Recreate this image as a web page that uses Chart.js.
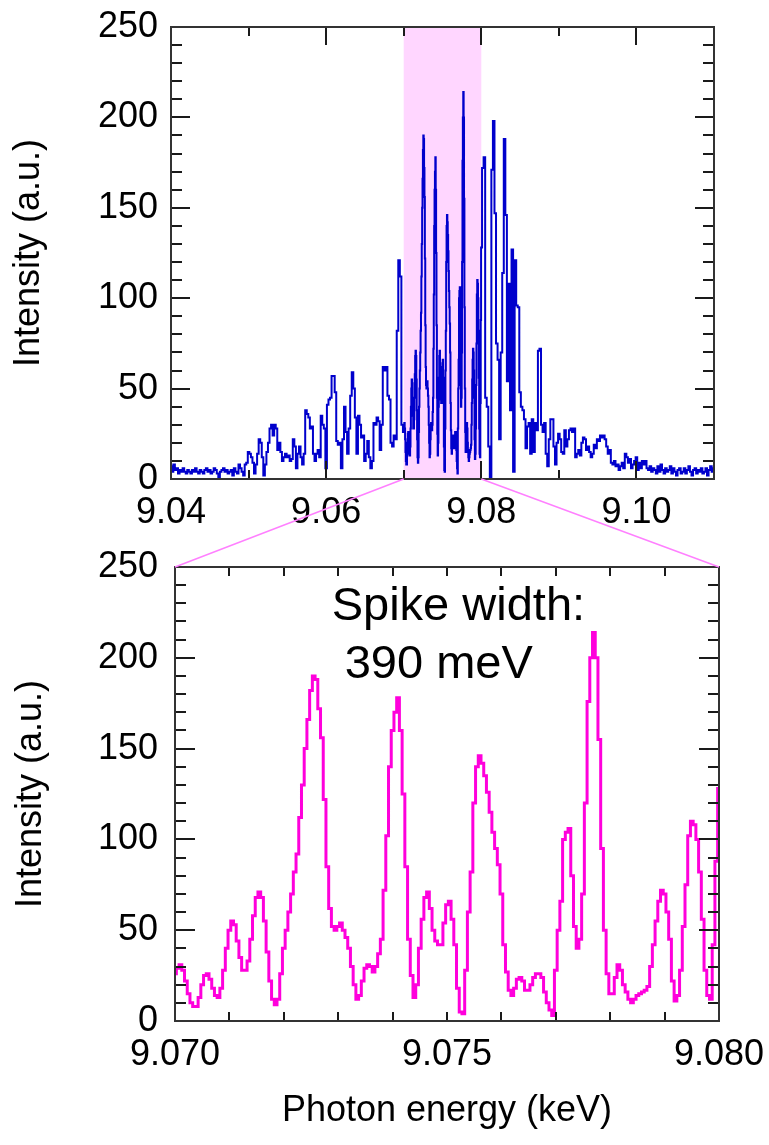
<!DOCTYPE html>
<html>
<head>
<meta charset="utf-8">
<title>Spectrum</title>
<script src="https://cdn.jsdelivr.net/npm/chart.js@4.4.1/dist/chart.umd.min.js"></script>
<style>
  html, body { margin: 0; padding: 0; background: #fff; }
  #wrap { position: relative; width: 769px; height: 1145px; }
  #wrap canvas { position: absolute; left: 0; top: 0; }
</style>
</head>
<body>
<div id="wrap">
  <canvas id="wideChart" width="769" height="1145"></canvas>
  <canvas id="zoomChart" width="769" height="1145"></canvas>
</div>
<script>
// Full spectrum, outside the zoom window (keV start, keV step, intensity)
const wideStep = 0.0002;
const wideLeftStart = 9.04;
const wideLeftIntensity = [
  7, 4, 8, 5, 6, 3, 5, 4, 6, 4,
  3, 5, 4, 3, 5, 4, 6, 4, 3, 5,
  4, 3, 5, 6, 4, 5, 3, 4, 6, 5,
  3, 1, 4, 5, 6, 4, 5, 3, 4, 5,
  2, 6, 4, 3, 8, 6, 4, 2, 8, 9,
  15, 14, 12, 9, 3, 8, 14, 22, 20, 12,
  2, 8, 15, 20, 28, 30, 24, 30, 28, 16,
  20, 15, 10, 12, 14, 12, 13, 10, 11, 22,
  18, 6, 14, 18, 12, 8, 14, 38, 36, 34,
  28, 29, 14, 10, 14, 16, 12, 35, 30, 28,
  6, 41, 44, 45, 57, 57, 48, 21, 19, 20,
  6, 22, 40, 26, 14, 28, 46, 59, 50, 34,
  14, 35, 30, 23, 24, 10, 14, 21, 12, 6,
  10, 31, 30, 34, 32, 16, 30, 62, 60, 62,
  46, 44, 20, 18, 24, 22, 82, 121, 112, 30
];
const wideRightStart = 9.0802;
const wideRightIntensity = [
  172, 178, 45, 40, 18, 1, 171, 198, 147, 75,
  66, 22, 70, 114, 188, 146, 54, 108, 38, 127,
  4, 121, 96, 95, 48, 40, 38, 33, 17, 29,
  31, 14, 33, 15, 31, 27, 71, 72, 30, 26,
  31, 14, 7, 22, 33, 33, 18, 8, 20, 25,
  22, 15, 14, 27, 18, 22, 27, 28, 26, 28,
  12, 14, 16, 13, 20, 23, 22, 16, 18, 15,
  12, 14, 19, 17, 22, 21, 24, 23, 24, 22,
  18, 14, 16, 9, 8, 10, 7, 8, 5, 7,
  9, 6, 14, 12, 9, 11, 6, 8, 10, 12,
  5, 9, 6, 10, 8, 10, 6, 5, 7, 4,
  6, 5, 3, 7, 4, 8, 5, 3, 6, 4,
  5, 7, 3, 6, 4, 2, 5, 6, 3, 4,
  6, 3, 5, 7, 4, 2, 5, 6, 3, 5,
  4, 6, 3, 4, 6, 2, 5, 7, 4, 6
];

// Zoomed window 9.070 - 9.080 keV
const zoomStart = 9.07;
const zoomStep = 0.00005;
const zoomIntensity = [
  26, 29, 31, 28, 22, 15, 10, 8, 8, 13,
  20, 25, 26, 23, 18, 14, 13, 18, 28, 40,
  50, 55, 53, 44, 35, 28, 28, 33, 45, 58,
  68, 71, 68, 55, 38, 22, 12, 9, 12, 26,
  40, 50, 60, 70, 82, 92, 112, 130, 150, 166,
  182, 190, 188, 172, 156, 122, 85, 62, 52, 50,
  52, 54, 50, 46, 40, 30, 20, 12, 14, 22,
  29, 31, 30, 27, 30, 37, 45, 72, 102, 140,
  160, 170, 178, 160, 125, 85, 45, 25, 13, 20,
  40, 56, 68, 71, 62, 50, 44, 42, 42, 54,
  64, 66, 56, 42, 18, 5, 4, 28, 60, 82,
  120, 140, 146, 142, 135, 126, 115, 104, 95, 86,
  70, 42, 27, 17, 14, 18, 23, 24, 22, 17,
  17, 20, 24, 26, 26, 24, 16, 10, 6, 3,
  28, 50, 66, 100, 104, 106, 80, 52, 40, 45,
  70, 120, 176, 200, 214, 200, 155, 95, 50, 26,
  15, 15, 24, 31, 28, 20, 16, 12, 10, 12,
  14, 15, 16, 17, 19, 30, 42, 55, 66, 72,
  70, 60, 45, 22, 11, 14, 28, 52, 75, 102,
  110, 108, 100, 82, 56, 28, 14, 12, 42, 88,
  128
];

// Axes
const wideRange = [9.04, 9.11];
const wideEnergyTicks = [9.04, 9.06, 9.08, 9.10];
const wideEnergyMinor = [9.05, 9.07, 9.09];
const zoomRange = [9.07, 9.08];
const zoomEnergyTicks = [9.070, 9.075, 9.080];
const zoomEnergyMinor = [9.071, 9.072, 9.073, 9.074, 9.076, 9.077, 9.078, 9.079];
const intensityTicks = [0, 50, 100, 150, 200, 250];
const intensityMinor = [10, 20, 30, 40, 60, 70, 80, 90, 110, 120, 130, 140, 160, 170, 180, 190, 210, 220, 230, 240];
const spikeText = ['Spike width:', '390 meV'];

const FONT = "'Liberation Sans', Arial, sans-serif";
Chart.defaults.font.family = FONT;
Chart.defaults.font.size = 36;
Chart.defaults.color = '#000';

function toPoints(start, step, values) {
  return values.map((v, i) => ({ x: start + i * step, y: v }));
}

// inward ticks on all four sides + frame, optional shaded band
const framePlugin = {
  id: 'frame',
  beforeDatasetsDraw(chart, args, opts) {
    if (!opts.band) return;
    const { ctx, chartArea: a, scales: { x } } = chart;
    const x0 = x.getPixelForValue(opts.band[0]);
    const x1 = x.getPixelForValue(opts.band[1]);
    ctx.save();
    ctx.fillStyle = '#ffd6ff';
    ctx.fillRect(x0, a.top, x1 - x0, a.bottom - a.top);
    ctx.restore();
  },
  afterDraw(chart, args, opts) {
    const { ctx, chartArea: a, scales: { x, y } } = chart;
    ctx.save();
    ctx.strokeStyle = '#1a1a1a';
    ctx.lineWidth = 2;
    ctx.beginPath();
    const xt = (values, len) => values.forEach(v => {
      const px = Math.round(x.getPixelForValue(v));
      ctx.moveTo(px, a.top); ctx.lineTo(px, a.top + len);
      ctx.moveTo(px, a.bottom); ctx.lineTo(px, a.bottom - len);
    });
    const yt = (values, len) => values.forEach(v => {
      const py = Math.round(y.getPixelForValue(v));
      ctx.moveTo(a.left, py); ctx.lineTo(a.left + len, py);
      ctx.moveTo(a.right, py); ctx.lineTo(a.right - len, py);
    });
    xt(opts.xMajor, opts.xMajorLen);
    xt(opts.xMinor, opts.xMinorLen);
    yt(intensityTicks, opts.yMajorLen);
    yt(intensityMinor, opts.yMinorLen);
    ctx.stroke();
    ctx.strokeStyle = '#333';
    ctx.strokeRect(a.left, a.top, a.right - a.left, a.bottom - a.top);
    ctx.restore();
  }
};

function axes(range, ticks, digits, yWidth, xHeight, xTitle, yTitlePad) {
  return {
    x: {
      type: 'linear',
      min: range[0],
      max: range[1],
      grid: { display: false, drawTicks: false },
      border: { display: false },
      afterBuildTicks: s => { s.ticks = ticks.map(v => ({ value: v })); },
      afterFit: s => { s.height = xHeight; s.paddingLeft = 0; s.paddingRight = 0; },
      ticks: { padding: 12, maxRotation: 0, autoSkip: false, callback: v => v.toFixed(digits) },
      title: xTitle ? { display: true, text: xTitle, padding: { top: 0, bottom: 12 } } : { display: false }
    },
    y: {
      min: 0,
      max: 250,
      grid: { display: false, drawTicks: false },
      border: { display: false },
      afterBuildTicks: s => { s.ticks = intensityTicks.map(v => ({ value: v })); },
      afterFit: s => { s.width = yWidth; s.paddingTop = 0; s.paddingBottom = 0; },
      ticks: { padding: yWidth - 158 },
      title: { display: true, text: 'Intensity (a.u.)', padding: { top: yTitlePad, bottom: 0 } }
    }
  };
}

const wideChart = new Chart(document.getElementById('wideChart'), {
  type: 'line',
  data: {
    datasets: [{
      data: [
        ...toPoints(wideLeftStart, wideStep, wideLeftIntensity),
        ...toPoints(zoomStart, zoomStep, zoomIntensity),
        ...toPoints(wideRightStart, wideStep, wideRightIntensity)
      ],
      borderColor: '#0000cc',
      borderWidth: 2,
      pointRadius: 0,
      stepped: 'middle',
      fill: false
    }]
  },
  options: {
    responsive: false,
    animation: false,
    events: [],
    layout: { padding: { left: 0, top: 27, right: 55, bottom: 606 } },
    scales: axes(wideRange, wideEnergyTicks, 2, 171, 60, null, 7),
    plugins: {
      legend: { display: false },
      tooltip: { enabled: false },
      frame: { band: zoomRange, xMajor: wideEnergyTicks, xMinor: wideEnergyMinor, xMajorLen: 18, xMinorLen: 9, yMajorLen: 19, yMinorLen: 11 }
    }
  },
  plugins: [framePlugin]
});

// connector lines from the band to the zoom panel and the annotation
const zoomExtras = {
  id: 'zoomExtras',
  afterDraw(chart, args, opts) {
    const { ctx, chartArea: a, scales: { x, y } } = chart;
    const wx = wideChart.scales.x;
    const wb = wideChart.chartArea.bottom;
    ctx.save();
    ctx.strokeStyle = '#ff80ff';
    ctx.lineWidth = 1.5;
    ctx.beginPath();
    ctx.moveTo(wx.getPixelForValue(zoomRange[0]), wb);
    ctx.lineTo(a.left, a.top);
    ctx.moveTo(wx.getPixelForValue(zoomRange[1]), wb);
    ctx.lineTo(a.right, a.top);
    ctx.stroke();
    ctx.font = '47px ' + FONT;
    ctx.fillStyle = '#000';
    ctx.textBaseline = 'alphabetic';
    ctx.textAlign = 'left';
    spikeText.forEach((t, i) => {
      const [ex, iy] = opts.anchors[i];
      ctx.fillText(t, x.getPixelForValue(ex), y.getPixelForValue(iy));
    });
    ctx.restore();
  }
};

new Chart(document.getElementById('zoomChart'), {
  type: 'line',
  data: {
    datasets: [{
      data: toPoints(zoomStart, zoomStep, zoomIntensity),
      borderColor: '#ff00dc',
      borderWidth: 3,
      pointRadius: 0,
      stepped: 'middle',
      fill: false
    }]
  },
  options: {
    responsive: false,
    animation: false,
    events: [],
    layout: { padding: { left: 0, top: 567, right: 50, bottom: 0 } },
    scales: axes(zoomRange, zoomEnergyTicks, 3, 175, 124, 'Photon energy (keV)', 9),
    plugins: {
      legend: { display: false },
      tooltip: { enabled: false },
      frame: { xMajor: zoomEnergyTicks, xMinor: zoomEnergyMinor, xMajorLen: 9, xMinorLen: 9, yMajorLen: 20, yMinorLen: 11 },
      zoomExtras: { anchors: [[9.07288, 221], [9.07312, 189]] }
    }
  },
  plugins: [framePlugin, zoomExtras]
});
</script>
</body>
</html>
